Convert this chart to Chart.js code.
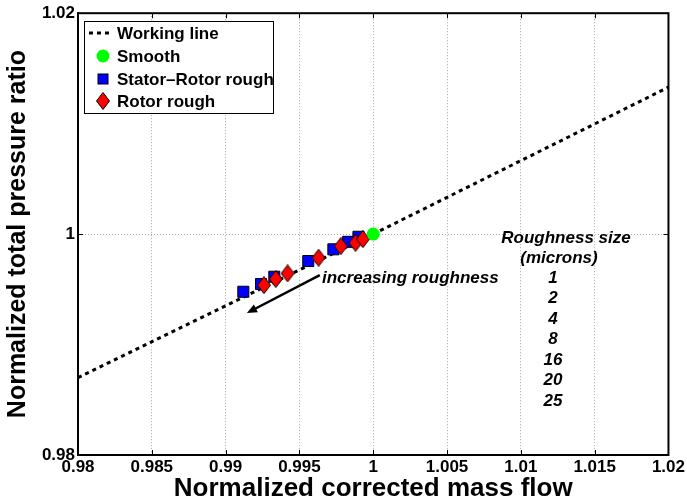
<!DOCTYPE html>
<html>
<head>
<meta charset="utf-8">
<title>Working line</title>
<script src="https://cdn.jsdelivr.net/npm/chart.js@4/dist/chart.umd.min.js"></script>
<style>
  html, body { margin: 0; padding: 0; background: #fff; }
  #wrap { width: 687px; height: 504px; }
</style>
</head>
<body>
<div id="wrap"><canvas id="myChart" width="687" height="504"></canvas></div>
<script>
// working line and operating points, normalized by the smooth case
const workingLineX = [0.98, 1.0, 1.02];
const workingLineY = [0.987, 1.0, 1.0133];
const smoothX = [1.0];
const smoothY = [1.0];
const statorRotorX = [0.9912, 0.9924, 0.9933, 0.9956, 0.9973, 0.9983, 0.999];
const statorRotorY = [0.99478, 0.99548, 0.99614, 0.99756, 0.99862, 0.9993, 0.99976];
const rotorX = [0.9926, 0.9934, 0.9942, 0.9963, 0.9978, 0.9988, 0.9993];
const rotorY = [0.99538, 0.99593, 0.99644, 0.99786, 0.99891, 0.99921, 0.99955];
const roughnessSizes = ['1', '2', '4', '8', '16', '20', '25'];

const xTicks = [0.98, 0.985, 0.99, 0.995, 1.0, 1.005, 1.01, 1.015, 1.02];
const yTicks = [0.98, 1.0, 1.02];

const FONT = "'Liberation Sans', Arial, sans-serif";

const toPoints = (xs, ys) => xs.map((x, i) => ({ x: x, y: ys[i] }));

// MATLAB-like diamond: a bit taller than wide
function makeDiamond(w, h, fill) {
  const c = document.createElement('canvas');
  c.width = w;
  c.height = h;
  const g = c.getContext('2d');
  g.beginPath();
  g.moveTo(w / 2, 0.5);
  g.lineTo(w - 0.5, h / 2);
  g.lineTo(w / 2, h - 0.5);
  g.lineTo(0.5, h / 2);
  g.closePath();
  g.fillStyle = fill;
  g.fill();
  g.strokeStyle = '#000';
  g.lineWidth = 1;
  g.stroke();
  return c;
}
const diamond = makeDiamond(14, 18, '#ff0000');

const fmt = (v) => String(+Number(v).toFixed(3));

const annotations = {
  id: 'annotations',
  afterDatasetsDraw(chart) {
    const { ctx, chartArea: a, scales } = chart;
    const x = scales.x;
    const y = scales.y;
    ctx.save();

    // inner tick marks on all four sides
    ctx.strokeStyle = '#000';
    ctx.lineWidth = 1;
    ctx.beginPath();
    xTicks.slice(1, -1).forEach((v) => {
      const px = Math.round(x.getPixelForValue(v)) + 0.5;
      ctx.moveTo(px, a.bottom);
      ctx.lineTo(px, a.bottom - 5);
      ctx.moveTo(px, a.top);
      ctx.lineTo(px, a.top + 5);
    });
    yTicks.slice(1, -1).forEach((v) => {
      const py = Math.round(y.getPixelForValue(v)) + 0.5;
      ctx.moveTo(a.left, py);
      ctx.lineTo(a.left + 5, py);
      ctx.moveTo(a.right, py);
      ctx.lineTo(a.right - 5, py);
    });
    ctx.stroke();

    // box round the axes
    ctx.lineWidth = 2;
    ctx.strokeRect(a.left, a.top, a.right - a.left, a.bottom - a.top);

    // arrow
    const x0 = x.getPixelForValue(0.99638);
    const y0 = y.getPixelForValue(0.99629);
    const x1 = x.getPixelForValue(0.99144);
    const y1 = y.getPixelForValue(0.99285);
    const ang = Math.atan2(y1 - y0, x1 - x0);
    const head = 11;
    ctx.lineWidth = 2.5;
    ctx.beginPath();
    ctx.moveTo(x0, y0);
    ctx.lineTo(x1 - Math.cos(ang) * head * 0.8, y1 - Math.sin(ang) * head * 0.8);
    ctx.stroke();
    ctx.fillStyle = '#000';
    ctx.beginPath();
    ctx.moveTo(x1, y1);
    ctx.lineTo(x1 - head * Math.cos(ang - 0.4), y1 - head * Math.sin(ang - 0.4));
    ctx.lineTo(x1 - head * Math.cos(ang + 0.4), y1 - head * Math.sin(ang + 0.4));
    ctx.closePath();
    ctx.fill();

    // annotation text
    ctx.font = 'italic bold 17px ' + FONT;
    ctx.textBaseline = 'middle';
    ctx.textAlign = 'left';
    ctx.fillText('increasing roughness', 322, 278);

    ctx.textAlign = 'center';
    ctx.fillText('Roughness size', 566, 238);
    ctx.fillText('(microns)', 559, 258);
    roughnessSizes.forEach((s, i) => {
      ctx.fillText(s, 553, 278 + i * 20.5);
    });

    // legend
    const lx = 84, ly = 21, lw = 189, lh = 92;
    ctx.fillStyle = '#fff';
    ctx.fillRect(lx, ly, lw, lh);
    ctx.strokeStyle = '#000';
    ctx.lineWidth = 1;
    ctx.strokeRect(lx + 0.5, ly + 0.5, lw, lh);

    const rows = [33, 56, 79, 101];
    const sx = 103;
    ctx.lineWidth = 3;
    ctx.setLineDash([4, 4]);
    ctx.beginPath();
    ctx.moveTo(89, rows[0]);
    ctx.lineTo(113, rows[0]);
    ctx.stroke();
    ctx.setLineDash([]);

    ctx.fillStyle = '#00ff00';
    ctx.beginPath();
    ctx.arc(sx, rows[1], 6.5, 0, Math.PI * 2);
    ctx.fill();

    ctx.fillStyle = '#0000ff';
    ctx.lineWidth = 1;
    ctx.fillRect(sx - 5, rows[2] - 5, 10, 10);
    ctx.strokeRect(sx - 5, rows[2] - 5, 10, 10);

    ctx.drawImage(diamond, sx - diamond.width / 2, rows[3] - diamond.height / 2);

    ctx.fillStyle = '#000';
    ctx.font = 'bold 17px ' + FONT;
    ctx.textAlign = 'left';
    const labels = ['Working line', 'Smooth', 'Stator\u2013Rotor rough', 'Rotor rough'];
    labels.forEach((t, i) => ctx.fillText(t, 117, rows[i] + 1));

    ctx.restore();
  },
};

const data = {
  datasets: [
    {
      label: 'Working line',
      data: toPoints(workingLineX, workingLineY),
      showLine: true,
      borderColor: '#000',
      borderWidth: 3,
      borderDash: [4, 4],
      pointRadius: 0,
      order: 3,
    },
    {
      label: 'Stator\u2013Rotor rough',
      data: toPoints(statorRotorX, statorRotorY),
      pointStyle: 'rect',
      pointRadius: 7.8,
      backgroundColor: '#0000ff',
      borderColor: '#000',
      borderWidth: 1,
      order: 2,
    },
    {
      label: 'Rotor rough',
      data: toPoints(rotorX, rotorY),
      pointStyle: diamond,
      pointRadius: 9,
      order: 1,
    },
    {
      label: 'Smooth',
      data: toPoints(smoothX, smoothY),
      pointStyle: 'circle',
      pointRadius: 6.5,
      backgroundColor: '#00ff00',
      borderColor: '#00ff00',
      borderWidth: 0,
      order: 0,
    },
  ],
};

const config = {
  type: 'scatter',
  data: data,
  plugins: [annotations],
  options: {
    responsive: false,
    animation: false,
    devicePixelRatio: 1,
    layout: { padding: { top: 13, right: 18, left: 0, bottom: 0 } },
    plugins: {
      legend: { display: false },
      tooltip: { enabled: false },
    },
    scales: {
      x: {
        type: 'linear',
        min: 0.98,
        max: 1.02,
        afterBuildTicks: (scale) => {
          scale.ticks = xTicks.map((v) => ({ value: v }));
        },
        afterFit: (scale) => {
          scale.height = 49;
        },
        ticks: {
          autoSkip: false,
          maxRotation: 0,
          padding: 2,
          color: '#000',
          font: { family: FONT, size: 17, weight: 'bold' },
          callback: fmt,
        },
        grid: { color: '#a8a8a8', lineWidth: 1, drawTicks: false },
        border: { color: '#000', width: 2, dash: [1, 2] },
        title: {
          display: true,
          text: 'Normalized corrected mass flow',
          color: '#000',
          padding: { top: 0, bottom: 0 },
          font: { family: FONT, size: 26, weight: 'bold' },
        },
      },
      y: {
        type: 'linear',
        min: 0.98,
        max: 1.02,
        afterBuildTicks: (scale) => {
          scale.ticks = yTicks.map((v) => ({ value: v }));
        },
        afterFit: (scale) => {
          scale.width = 78;
        },
        ticks: {
          autoSkip: false,
          padding: 3,
          color: '#000',
          font: { family: FONT, size: 17, weight: 'bold' },
          callback: fmt,
        },
        grid: { color: '#a8a8a8', lineWidth: 1, drawTicks: false },
        border: { color: '#000', width: 2, dash: [1, 2] },
        title: {
          display: true,
          text: 'Normalized total pressure ratio',
          color: '#000',
          padding: { top: 3, bottom: 0 },
          font: { family: FONT, size: 25, weight: 'bold' },
        },
      },
    },
  },
};

const myChart = new Chart(document.getElementById('myChart'), config);
</script>
</body>
</html>
